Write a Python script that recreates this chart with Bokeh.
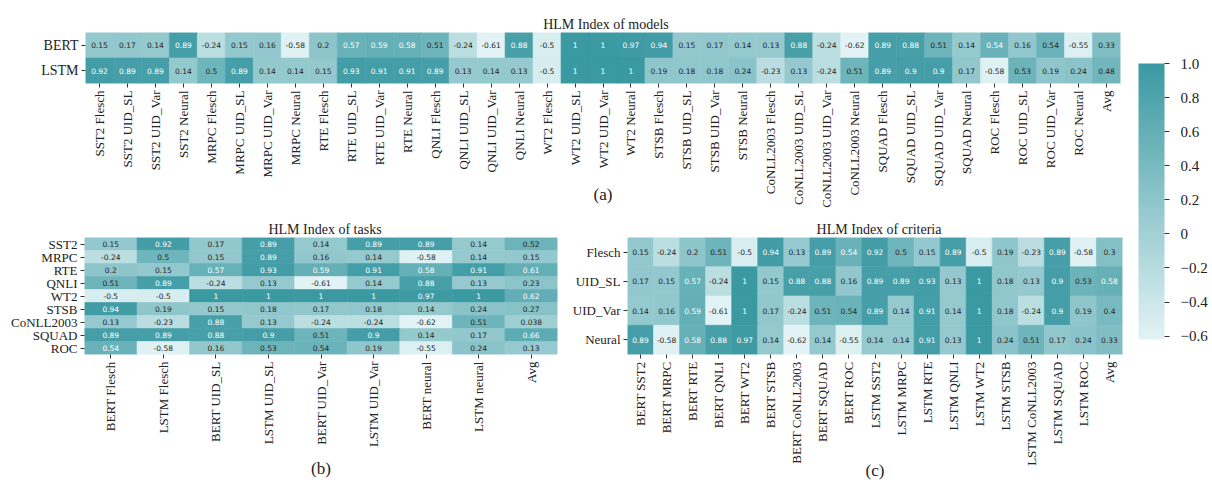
import math
from bokeh.plotting import figure
from bokeh.layouts import row, column
from bokeh.models import (ColumnDataSource, FactorRange, LinearColorMapper, ColorBar,
                          FixedTicker, CustomJSTickFormatter, Range1d)
from bokeh.transform import transform
from bokeh.core.properties import value
from bokeh.embed import file_html
from bokeh.resources import INLINE

# ---------------- data ----------------
# (a) HLM Index of models
a_rows = ["BERT", "LSTM"]
a_cols = ["SST2 Flesch", "SST2 UID_SL", "SST2 UID_Var", "SST2 Neural",
          "MRPC Flesch", "MRPC UID_SL", "MRPC UID_Var", "MRPC Neural",
          "RTE Flesch", "RTE UID_SL", "RTE UID_Var", "RTE Neural",
          "QNLI Flesch", "QNLI UID_SL", "QNLI UID_Var", "QNLI Neural",
          "WT2 Flesch", "WT2 UID_SL", "WT2 UID_Var", "WT2 Neural",
          "STSB Flesch", "STSB UID_SL", "STSB UID_Var", "STSB Neural",
          "CoNLL2003 Flesch", "CoNLL2003 UID_SL", "CoNLL2003 UID_Var", "CoNLL2003 Neural",
          "SQUAD Flesch", "SQUAD UID_SL", "SQUAD UID_Var", "SQUAD Neural",
          "ROC Flesch", "ROC UID_SL", "ROC UID_Var", "ROC Neural", "Avg"]
a_bert = [0.15, 0.17, 0.14, 0.89, -0.24, 0.15, 0.16, -0.58, 0.2, 0.57, 0.59, 0.58,
          0.51, -0.24, -0.61, 0.88, -0.5, 1.0, 1.0, 0.97, 0.94, 0.15, 0.17, 0.14,
          0.13, 0.88, -0.24, -0.62, 0.89, 0.88, 0.51, 0.14, 0.544, 0.16, 0.536, -0.55, 0.33]
a_lstm = [0.92, 0.89, 0.89, 0.14, 0.5, 0.89, 0.14, 0.14, 0.15, 0.93, 0.91, 0.91,
          0.89, 0.13, 0.14, 0.13, -0.5, 1.0, 1.0, 1.0, 0.19, 0.18, 0.18, 0.24,
          -0.23, 0.13, -0.24, 0.51, 0.89, 0.9, 0.9, 0.17, -0.58, 0.53, 0.19, 0.24, 0.48]

# (b) HLM Index of tasks
b_rows = ["SST2", "MRPC", "RTE", "QNLI", "WT2", "STSB", "CoNLL2003", "SQUAD", "ROC"]
b_cols = ["BERT Flesch", "LSTM Flesch", "BERT UID_SL", "LSTM UID_SL", "BERT UID_Var",
          "LSTM UID_Var", "BERT neural", "LSTM neural", "Avg"]
b_sst2 = [0.15, 0.92, 0.17, 0.89, 0.14, 0.89, 0.89, 0.14, 0.52]
b_mrpc = [-0.24, 0.5, 0.15, 0.89, 0.16, 0.14, -0.58, 0.14, 0.15]
b_rte = [0.2, 0.15, 0.57, 0.93, 0.59, 0.91, 0.58, 0.91, 0.61]
b_qnli = [0.51, 0.89, -0.24, 0.13, -0.61, 0.14, 0.88, 0.13, 0.23]
b_wt2 = [-0.5, -0.5, 1.0, 1.0, 1.0, 1.0, 0.97, 1.0, 0.62]
b_stsb = [0.94, 0.19, 0.15, 0.18, 0.17, 0.18, 0.14, 0.24, 0.27]
b_conll = [0.13, -0.23, 0.88, 0.13, -0.24, -0.24, -0.62, 0.51, 0.038]
b_squad = [0.89, 0.89, 0.88, 0.9, 0.51, 0.9, 0.14, 0.17, 0.66]
b_roc = [0.544, -0.58, 0.16, 0.53, 0.536, 0.19, -0.55, 0.24, 0.13]

# (c) HLM Index of criteria
c_rows = ["Flesch", "UID_SL", "UID_Var", "Neural"]
c_cols = ["BERT SST2", "BERT MRPC", "BERT RTE", "BERT QNLI", "BERT WT2", "BERT STSB",
          "BERT CoNLL2003", "BERT SQUAD", "BERT ROC", "LSTM SST2", "LSTM MRPC",
          "LSTM RTE", "LSTM QNLI", "LSTM WT2", "LSTM STSB", "LSTM CoNLL2003",
          "LSTM SQUAD", "LSTM ROC", "Avg"]
c_flesch = [0.15, -0.24, 0.2, 0.51, -0.5, 0.94, 0.13, 0.89, 0.544, 0.92, 0.5, 0.15,
            0.89, -0.5, 0.19, -0.23, 0.89, -0.58, 0.3]
c_uid_sl = [0.17, 0.15, 0.57, -0.24, 1.0, 0.15, 0.88, 0.88, 0.16, 0.89, 0.89, 0.93,
            0.13, 1.0, 0.18, 0.13, 0.9, 0.53, 0.58]
c_uid_var = [0.14, 0.16, 0.59, -0.61, 1.0, 0.17, -0.24, 0.51, 0.536, 0.89, 0.14, 0.91,
             0.14, 1.0, 0.18, -0.24, 0.9, 0.19, 0.4]
c_neural = [0.89, -0.58, 0.58, 0.88, 0.97, 0.14, -0.62, 0.14, -0.55, 0.14, 0.14, 0.91,
            0.13, 1.0, 0.24, 0.51, 0.17, 0.24, 0.33]

cbar_ticks = [-0.6, -0.4, -0.2, 0.0, 0.2, 0.4, 0.6, 0.8, 1.0]
vmin, vmax = -0.62, 1.0

# ---------------- styling ----------------
def hex2rgb(h):
    h = h.lstrip("#")
    return tuple(int(h[i:i + 2], 16) for i in (0, 2, 4))

lo, hi = hex2rgb("#E3F3F5"), hex2rgb("#3B99A2")
palette = []
for i in range(256):
    t = i / 255
    palette.append("#%02x%02x%02x" % tuple(round(lo[k] + (hi[k] - lo[k]) * t) for k in range(3)))
mapper = LinearColorMapper(palette=palette, low=vmin, high=vmax)

SERIF = "Liberation Serif"


def heatmap(rows, cols, matrix, width, height, ml, mr, mt, mb, title, title_pad,
            tag, tag_standoff, ylab_size):
    xs, ys, vs, ts, tcs = [], [], [], [], []
    for r, vals in zip(rows, matrix):
        for c, v in zip(cols, vals):
            xs.append(c)
            ys.append(r)
            vs.append(v)
            ts.append(format(v, ".2g"))
            tcs.append("#ffffff" if v > 0.54 else "#262626")
    src = ColumnDataSource(dict(x=xs, y=ys, v=vs, t=ts, tc=tcs))
    p = figure(x_range=FactorRange(factors=cols), y_range=FactorRange(factors=list(reversed(rows))),
               width=width, height=height, output_backend="svg", toolbar_location=None,
               min_border_left=ml, min_border_right=mr, min_border_top=mt, min_border_bottom=mb)
    p.rect(x="x", y="y", width=1, height=1, source=src,
           fill_color=transform("v", mapper), line_color=transform("v", mapper), line_width=0.6)
    p.text(x="x", y="y", text="t", text_color="tc", source=src, text_align="center",
           text_baseline="middle", text_font=value("DejaVu Sans"), text_font_size="7.5px")
    p.title.text = title
    p.title.align = "center"
    p.title.text_font = SERIF
    p.title.text_font_style = "normal"
    p.title.text_font_size = "14px"
    p.title.text_color = "#222222"
    p.title.standoff = 2
    p.title.padding = (title_pad, 0, 0, 0)
    p.xgrid.visible = False
    p.ygrid.visible = False
    p.outline_line_color = None
    p.axis.axis_line_color = None
    p.axis.major_tick_out = 4
    p.axis.major_tick_in = 0
    p.axis.major_tick_line_color = "#333333"
    p.axis.minor_tick_line_color = None
    p.axis.major_label_text_font = SERIF
    p.axis.major_label_text_font_size = "13px"
    p.yaxis.major_label_text_font_size = ylab_size
    p.axis.major_label_text_color = "#222222"
    p.axis.major_label_standoff = 3
    p.xaxis.major_label_orientation = math.pi / 2
    p.x_range.range_padding = 0
    p.y_range.range_padding = 0
    p.xaxis.axis_label = tag
    p.xaxis.axis_label_text_font = SERIF
    p.xaxis.axis_label_text_font_style = "normal"
    p.xaxis.axis_label_text_font_size = "17px"
    p.xaxis.axis_label_text_color = "#222222"
    p.xaxis.axis_label_standoff = tag_standoff
    return p


pa = heatmap(a_rows, a_cols, [a_bert, a_lstm], 1130, 210, 85, 10, 32, 127,
             "HLM Index of models", 6, "(a)", -26, "14px")
pb = heatmap(b_rows, b_cols, [b_sst2, b_mrpc, b_rte, b_qnli, b_wt2, b_stsb, b_conll, b_squad, b_roc],
             562, 272, 84, 5, 27, 127, "HLM Index of tasks", 8, "(b)", 9, "13px")
pc = heatmap(c_rows, c_cols, [c_flesch, c_uid_sl, c_uid_var, c_neural],
             568, 272, 65, 8, 27, 127, "HLM Index of criteria", 8, "(c)", -8, "13px")

pcb = figure(width=80, height=482, output_backend="svg", toolbar_location=None,
             x_range=Range1d(0, 1), y_range=Range1d(0, 1),
             min_border_left=0, min_border_right=0, min_border_top=0, min_border_bottom=0)
pcb.xaxis.visible = False
pcb.yaxis.visible = False
pcb.xgrid.visible = False
pcb.ygrid.visible = False
pcb.outline_line_color = None
fmt = CustomJSTickFormatter(code="""
if (Math.abs(tick) < 1e-9) { return '0'; }
return (tick < 0 ? '\u2212' : '') + Math.abs(tick).toFixed(1);
""")
cb = ColorBar(color_mapper=mapper, ticker=FixedTicker(ticks=cbar_ticks), formatter=fmt,
              width=26, height=276, location=(8, 143), padding=0,
              background_fill_alpha=0, border_line_color=None, bar_line_color=None,
              major_tick_out=5, major_tick_in=0, major_tick_line_color="#333333",
              minor_tick_line_color=None, major_label_text_font=SERIF,
              major_label_text_font_size="15px", major_label_text_color="#222222",
              label_standoff=11)
pcb.add_layout(cb, "center")

layout = row(column(pa, row(pb, pc)), pcb)
open("out.html", "w").write(file_html(layout, INLINE))
